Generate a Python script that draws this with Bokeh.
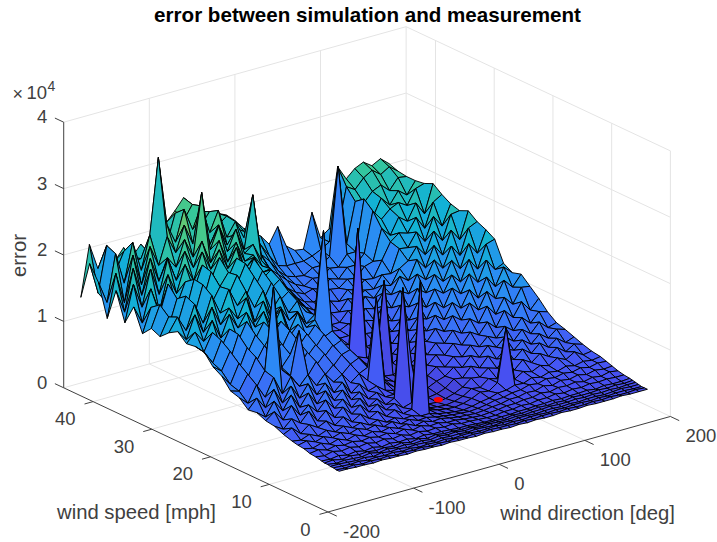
from bokeh.plotting import figure
from bokeh.models import Range1d
from bokeh.core.properties import value
from bokeh.embed import file_html
from bokeh.resources import INLINE
import numpy as np

title_text = "error between simulation and measurement"
x_label = "wind direction [deg]"
y_label = "wind speed [mph]"
z_label = "error"
x_ticks = [-200, -100, 0, 100, 200]
y_ticks = [0, 10, 20, 30, 40]
z_ticks = [0, 1, 2, 3, 4]
min_dir, min_speed, min_err = 25, 14, 3000

wind_dir = [-180,-170,-160,-150,-140,-130,-120,-110,-100,-90,-80,-70,-60,-50,-40,-30,-20,-10,0,10,20,30,40,50,60,70,80,90,100,110,120,130,140,150,160,170,180]
wind_spd = [1,1.5,2,2.5,3,3.5,4,5,6,7,8,9,10.5,12,13.5,15,16.5,18,19.5,21,22.5,24,25.5,27,28.5,30,31.5,33,34.5,36,37.5,39,40.5,42,43.5,45]
# error in hundreds; one row per wind speed, one column per wind direction
err = [
[50,50,49,49,48,49,48,48,47,48, 47,47,46,47,46,46,45,46,45,45, 44,45,44,45,44,44,45,44,44,45, 44,44,44,45,44,44,44],
[50,49,50,48,49,48,49,47,48,47, 48,46,47,46,47,45,46,45,46,45, 45,44,45,44,45,45,44,45,44,44, 45,44,45,44,44,45,44],
[51,50,49,50,48,49,48,49,47,48, 46,47,46,47,45,46,46,45,45,46, 44,45,44,45,45,44,45,44,45,45, 44,45,44,45,45,44,44],
[51,51,50,49,50,48,50,48,49,47, 48,47,46,47,46,46,45,46,45,44, 45,44,45,45,44,45,45,44,45,44, 45,45,44,45,46,45,45],
[52,50,51,50,49,51,48,50,48,49, 47,48,46,48,46,47,45,46,44,45, 44,44,45,44,45,45,46,45,45,46, 45,46,45,46,45,46,46],
[52,53,50,52,50,51,49,50,48,50, 47,49,46,48,46,46,45,45,44,44, 44,43,45,44,45,46,45,46,45,47, 46,46,47,46,47,46,47],
[53,52,54,51,53,50,52,49,51,49, 50,47,49,47,47,46,45,45,44,43, 43,44,44,45,45,46,46,47,46,47, 47,48,46,48,47,47,48],
[55,53,56,53,55,52,54,51,53,50, 52,48,50,47,48,46,47,44,44,43, 42,42,44,44,46,45,47,47,49,47, 49,48,50,49,50,49,49],
[56,58,54,57,54,56,53,55,52,54, 50,53,48,51,47,48,45,45,43,42, 41,42,43,45,45,47,47,50,48,51, 50,52,49,52,50,53,51],
[59,56,60,55,59,54,58,53,56,52, 55,50,53,47,50,46,47,44,42,41, 40,41,43,44,47,47,50,49,53,50, 54,52,55,52,55,53,54],
[60,63,58,62,57,61,56,60,55,58, 52,56,49,52,47,48,45,43,41,40, 39,40,42,45,46,49,50,54,52,56, 54,57,55,58,55,58,57],
[62,60,65,59,64,58,63,57,61,54, 58,51,54,49,50,46,46,42,40,38, 37,39,42,44,48,49,53,52,57,54, 58,56,60,57,60,58,60],
[66,72,60,70,62,68,58,67,56,64, 54,61,50,56,47,50,240,42,38,36, 35,37,41,47,45,54,133,52,60,56, 62,58,66,60,68,60,62],
[72,64,76,66,80,62,74,60,72,58, 68,54,62,50,56,46,50,40,35,33, 32,34,38,46,44,54,50,62,56,68, 60,70,62,72,62,70,66],
[74,84,68,86,68,80,66,80,64,74, 58,68,52,60,48,54,217,100,36,31, 30,32,36,42,52,50,60,56,68,62, 74,64,76,66,76,66,71],
[80,70,90,72,92,70,88,68,84,66, 78,60,68,54,60,50,50,40,37,32, 31,33,38,48,46,60,54,68,60,72, 66,78,68,80,70,80,76],
[78,92,74,98,74,96,74,92,72,86, 68,80,60,70,56,60,50,46,38,34, 33,36,42,46,56,52,66,60,74,68, 80,70,84,74,88,76,80],
[90,78,102,80,106,78,100,82,96,76, 90,74,82,66,76,62,183,52,42,37, 36,40,44,54,50,62,58,72,66,78, 72,86,76,92,80,94,90],
[94,90,112,88,110,232,104,92,156,84, 102,78,90,72,84,66,72,52,46,40, 38,43,50,50,62,58,72,66,82,74, 90,78,100,86,106,90,104],
[110,94,122,96,124,92,118,98,114,90, 110,86,100,78,92,74,80,60,50,42, 40,46,48,60,56,70,66,82,74,92, 82,104,88,110,96,118,116],
[118,108,134,102,132,106,128,110,124,98, 120,94,108,86,100,82,86,66,54,44, 176,48,56,56,70,66,82,74,94,84, 106,92,116,102,126,112,128],
[134,114,144,110,146,112,138,116,136,106, 130,102,118,94,110,88,94,72,60,47, 44,50,52,64,62,78,72,92,82,104, 92,116,100,128,110,136,124],
[136,124,150,122,148,126,152,122,144,118, 138,112,126,102,118,96,102,78,66,52, 47,52,60,58,74,70,86,80,102,90, 116,104,130,114,144,126,132],
[134,148,130,158,128,160,136,156,130,150, 120,146,110,134,108,116,247,84,72,56, 236,54,56,68,66,80,76,98,88,112, 102,126,112,142,124,158,162],
[146,130,164,134,168,138,160,140,168,128, 156,124,140,116,126,104,114,90,76,60, 54,56,64,62,78,72,92,86,110,100, 124,110,138,122,156,138,170],
[138,158,134,170,138,176,146,178,150,168, 140,162,128,146,118,132,112,100,84,66, 58,58,60,74,70,88,82,104,96,122, 110,136,120,150,132,170,176],
[126,152,136,176,144,186,154,176,160,186, 150,176,136,160,130,140,122,108,92,72, 62,60,66,66,82,78,98,92,116,106, 134,118,148,130,164,146,186],
[132,164,126,166,142,188,150,192,166,184, 162,190,148,172,142,152,130,116,100,80, 68,62,62,76,74,90,84,100,96,118, 126,144,128,160,142,178,180],
[118,154,140,182,146,178,162,196,170,200, 166,192,156,184,150,160,140,124,108,88, 74,66,70,68,84,80,90,88,106,104, 138,136,156,138,172,154,184],
[152,124,172,134,186,154,194,166,206,176, 202,170,198,162,176,150,152,130,116,94, 80,72,70,78,74,88,84,96,94,118, 142,152,148,168,148,184,192],
[122,176,138,192,150,200,164,204,176,212, 176,206,170,196,164,170,150,140,122,102, 88,78,74,76,86,84,94,92,106,110, 156,142,166,156,180,160,202],
[164,128,190,146,198,160,192,174,212,182, 276,186,218,176,206,166,176,148,130,110, 96,86,80,84,80,92,88,102,102,116, 176,160,172,178,170,192,196],
[116,180,132,200,152,206,174,214,186,224, 192,228,184,210,176,188,162,241,146,122, 110,98,88,82,90,88,98,96,112,112, 188,156,182,168,186,176,194],
[164,130,200,152,210,164,214,327,222,192, 238,204,236,192,222,178,198,170,160,138, 124,106,94,90,88,96,96,106,238,118, 178,172,186,192,180,196,194],
[186,138,206,162,190,170,172,176,196,182, 226,212,232,196,214,190,200,178,170,150, 142,122,104,100,100,100,104,110,118,132, 194,186,200,208,198,206,196],
[129,205,165,196,170,186,168,184,160,178, 206,220,236,222,208,200,198,192,180,165, 155,146,130,153,120,110,108,160,118,128, 218,196,208,214,205,212,201],
]

parula = np.array([[0.2422,0.1504,0.6603],[0.2810,0.3228,0.9579],[0.1786,0.5289,0.9682],
                   [0.0689,0.6948,0.8394],[0.2161,0.7843,0.5923],[0.6720,0.7793,0.2227],
                   [0.9970,0.7659,0.2199],[0.9769,0.9839,0.0805]])
colour_limit = 36000.0

def proj(x, y, z=0):
    """Orthographic view of (direction, speed, error) into page pixels."""
    u = np.asarray(x, float) + 200
    y = np.asarray(y, float)
    z = np.asarray(z, float)
    return 327.5 + 0.856*u - 5.873*y, 511.5 - 0.2388*u - 2.76*y - 66.4*z/1e4

def colour(v):
    t = np.clip(v/colour_limit, 0, 1)*7
    i = min(int(t), 6)
    c = parula[i] + (parula[i+1]-parula[i])*(t-i)
    return "#%02x%02x%02x" % tuple(int(round(k*255)) for k in c)

p = figure(width=717, height=542, output_backend="svg", toolbar_location=None,
           x_range=Range1d(0, 717), y_range=Range1d(542, 0), min_border=0,
           background_fill_color="white", border_fill_color="white")
p.axis.visible = False
p.grid.visible = False
p.outline_line_color = None

GRID = "#e4e4e4"
AXIS = "#404040"
YMAX = 45
def seg(a, b, color=GRID, width=1.0):
    xs, ys = proj([a[0], b[0]], [a[1], b[1]], [a[2], b[2]])
    p.line(list(xs), list(ys), line_color=color, line_width=width)

for t in z_ticks:
    z = t*1e4
    seg((-200, YMAX, z), (200, YMAX, z))
    seg((200, YMAX, z), (200, 0, z))
for t in x_ticks[1:-1]:
    seg((t, YMAX, 0), (t, YMAX, 4e4))
    seg((t, 0, 0), (t, YMAX, 0))
for t in y_ticks[1:]:
    seg((200, t, 0), (200, t, 4e4))
    seg((-200, t, 0), (200, t, 0))
seg((200, YMAX, 0), (200, YMAX, 4e4))
seg((200, 0, 0), (200, 0, 4e4))

# axes and ticks
seg((-200, YMAX, 0), (-200, YMAX, 4e4), AXIS)
seg((-200, YMAX, 0), (-200, 0, 0), AXIS)
seg((-200, 0, 0), (200, 0, 0), AXIS)
for t in z_ticks:
    seg((-200, YMAX, t*1e4), (-200, YMAX+1.5, t*1e4), AXIS)
for t in y_ticks:
    seg((-200, t, 0), (-210, t, 0), AXIS)
for t in x_ticks:
    seg((t, 0, 0), (t, -1.5, 0), AXIS)

# surface, drawn from the far corner towards the viewer
xs, ys, fc = [], [], []
for i in range(len(wind_dir)-2, -1, -1):
    for j in range(len(wind_spd)-2, -1, -1):
        cx = [wind_dir[i], wind_dir[i+1], wind_dir[i+1], wind_dir[i]]
        cy = [wind_spd[j], wind_spd[j], wind_spd[j+1], wind_spd[j+1]]
        cz = [err[j][i]*100, err[j][i+1]*100, err[j+1][i+1]*100, err[j+1][i]*100]
        a, b = proj(cx, cy, cz)
        xs.append(list(a)); ys.append(list(b)); fc.append(colour(cz[0]))
p.patches(xs, ys, fill_color=fc, line_color="#000000", line_width=1.0, line_alpha=0.95)

mx, my = proj(min_dir, min_speed, min_err)
p.ellipse([float(mx)], [float(my)], width=9, height=5.5, fill_color="#ff0000", line_color="#ff0000", line_width=0)

FONT = value("Liberation Sans")
def txt(x, y, s, size, align="center", color=AXIS, style="normal", angle=0, base="middle"):
    p.text([x], [y], text=[s], text_font=FONT, text_font_size=value(size), text_color=color,
           text_align=align, text_baseline=base, text_font_style=style, angle=angle)

for t in x_ticks:
    a, b = proj(t, 0, 0)
    txt(float(a)+15, float(b)+19.5, str(t), "18.5px", "left")
for t in y_ticks:
    a, b = proj(-200, t, 0)
    txt(float(a)-17.5, float(b)+17, str(t), "18.5px", "right")
for t in z_ticks:
    a, b = proj(-200, YMAX, t*1e4)
    txt(float(a)-16.5, float(b)-5.5, str(t), "18.5px", "right")

txt(367, 14, title_text, "20.6px", "center", "#000000", "bold")
txt(136, 511, y_label, "20.3px")
txt(587, 512, x_label, "20.3px")
txt(18, 255, z_label, "20.3px", angle=np.pi/2)
txt(12, 93, "\u00d7", "18px", "left")
txt(26, 92, "10", "18.5px", "left")
txt(47, 85, "4", "14px", "left")

open("out.html", "w").write(file_html(p, INLINE))
